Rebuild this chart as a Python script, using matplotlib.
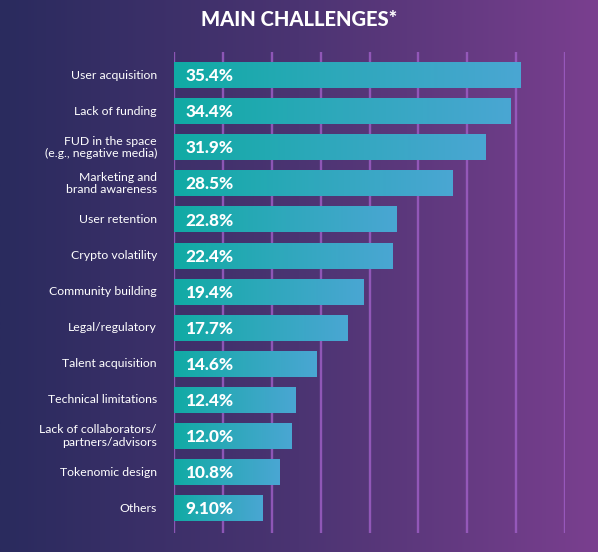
#!/usr/bin/env python3
"""
Main challenges bar chart - horizontal bars with gradient fill
"""

import numpy as np
import matplotlib
matplotlib.use('Agg')
import matplotlib.pyplot as plt
from matplotlib.colors import LinearSegmentedColormap

# Data
categories = ['User acquisition', 'Lack of funding',
              'FUD in the space\n(e.g., negative media)',
              'Marketing and\nbrand awareness', 'User retention',
              'Crypto volatility', 'Community building', 'Legal/regulatory',
              'Talent acquisition', 'Technical limitations',
              'Lack of collaborators/\npartners/advisors',
              'Tokenomic design', 'Others']
values = [35.4, 34.4, 31.9, 28.5, 22.8, 22.4, 19.4, 17.7, 14.6, 12.4, 12.0, 10.8, 9.10]
value_labels = ['35.4%', '34.4%', '31.9%', '28.5%', '22.8%', '22.4%', '19.4%',
                '17.7%', '14.6%', '12.4%', '12.0%', '10.8%', '9.10%']
grid_ticks = [0, 5, 10, 15, 20, 25, 30, 35, 40]

plt.rcParams['font.family'] = ['Lato', 'DejaVu Sans']

W, H = 598, 552
fig = plt.figure(figsize=(W / 100, H / 100), dpi=100)

# Background gradient (navy -> purple)
bg_cmap = LinearSegmentedColormap.from_list('bg', ['#2a2b5e', '#4b3472', '#7a3f8f'])
bg = fig.add_axes([0, 0, 1, 1], zorder=0)
bg.imshow(np.linspace(0, 1, 256).reshape(1, -1), aspect='auto', cmap=bg_cmap,
          extent=[0, 1, 0, 1])
bg.set_axis_off()

# Main axes: x=0 at 174px, x=40 at 565px; top 52px, bottom 533px
left, right = 174 / W, 565 / W
top, bottom = 52 / H, 533 / H
ax = fig.add_axes([left, 1 - bottom, right - left, bottom - top], zorder=1)
ax.patch.set_alpha(0)

n = len(categories)

for t in grid_ticks:
    ax.axvline(t, color='#a060c8', linewidth=1.7, alpha=0.8, zorder=1)

bar_cmap = LinearSegmentedColormap.from_list('bar', ['#10aba4', '#2fa8bc', '#4aa6d3'])
grad = np.linspace(0, 1, 256).reshape(1, -1)
bar_h = 0.72
for i, v in enumerate(values):
    ax.imshow(grad, aspect='auto', cmap=bar_cmap, zorder=2,
              extent=[0, v, i + bar_h / 2, i - bar_h / 2])
    ax.text(1.2, i + 0.03, value_labels[i], color='white', fontsize=12.3,
            fontweight='black', va='center', ha='left', zorder=3)
    ax.text(-1.75, i, categories[i], color='white', fontsize=8.8,
            va='center', ha='right', linespacing=1.15, zorder=3)

ax.set_xlim(0, 40)
ax.set_ylim(n - 1 + 0.69, -0.64)
ax.set_axis_off()

fig.text(0.5, 1 - 20 / H, 'MAIN CHALLENGES*', color='white', fontsize=14.5,
         fontweight='black', ha='center', va='center')

plt.savefig('out.png', dpi=100)
